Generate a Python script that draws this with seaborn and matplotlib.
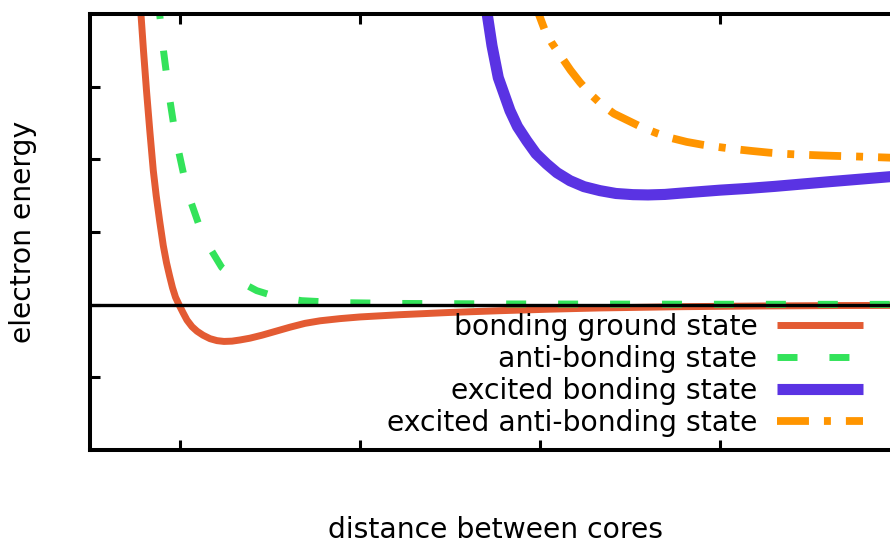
import matplotlib
matplotlib.use("Agg")
import matplotlib.pyplot as plt
import seaborn as sns
import pandas as pd

# Potential energy curves (distance between cores -> electron energy)
ground_x = [0.775, 0.7833, 0.7972, 0.8139, 0.8322, 0.8517, 0.8678, 0.8867, 0.9072, 0.925,
            0.9417, 0.9583, 0.975, 0.9944, 1.0167, 1.0389, 1.0667, 1.0944, 1.1278, 1.1667,
            1.2056, 1.2444, 1.2889, 1.3333, 1.3889, 1.4556, 1.5278, 1.6111, 1.6944, 1.7778,
            1.8889, 2.0, 2.2222, 2.5, 2.7778, 3.0556, 3.3333, 3.7778, 4.2222, 4.6667, 5.0]
ground_y = [4.32, 3.991, 3.495, 2.945, 2.394, 1.844, 1.500, 1.156, 0.812, 0.578,
            0.399, 0.234, 0.103, 0.0, -0.110, -0.213, -0.303, -0.365, -0.420, -0.468,
            -0.495, -0.506, -0.502, -0.486, -0.461, -0.420, -0.369, -0.310, -0.257, -0.222,
            -0.192, -0.169, -0.138, -0.107, -0.083, -0.062, -0.045, -0.028, -0.018, -0.012, -0.010]

anti_x = [0.875, 0.8872, 0.8928, 0.9083, 0.9261, 0.9444, 0.9667, 0.9917, 1.0194, 1.0583,
          1.1028, 1.1583, 1.2317, 1.3278, 1.4261, 1.5389, 1.6761, 1.8889, 2.2222, 2.7778,
          3.8889, 5.0]
anti_y = [4.33, 3.991, 3.867, 3.495, 3.151, 2.807, 2.449, 2.119, 1.803, 1.431,
          1.115, 0.812, 0.513, 0.323, 0.193, 0.106, 0.055, 0.028, 0.017, 0.010,
          0.006, 0.004]

exc_x = [2.689, 2.7072, 2.7333, 2.7683, 2.8333, 2.875, 2.9261, 2.9778, 3.0372, 3.0944,
         3.1667, 3.2444, 3.3333, 3.4222, 3.5167, 3.6, 3.6944, 3.7778, 4.0, 4.1556,
         4.3056, 4.4556, 4.6111, 4.7778, 4.9444, 5.0]
exc_y = [4.33, 3.991, 3.564, 3.124, 2.670, 2.450, 2.257, 2.078, 1.936, 1.816,
         1.706, 1.624, 1.569, 1.530, 1.514, 1.510, 1.517, 1.534, 1.576, 1.600,
         1.628, 1.660, 1.693, 1.727, 1.761, 1.772]

exc_anti_x = [2.939, 2.9944, 3.0278, 3.0667, 3.1206, 3.1694, 3.2222, 3.2806, 3.3428, 3.4111,
              3.4906, 3.5667, 3.6483, 3.7278, 3.815, 3.9, 3.9906, 4.0833, 4.1778, 4.2722,
              4.3706, 4.4667, 4.5611, 4.6611, 4.7594, 4.85, 4.9444, 5.0]
exc_anti_y = [4.33, 3.991, 3.770, 3.598, 3.403, 3.227, 3.059, 2.897, 2.752, 2.628,
              2.532, 2.440, 2.360, 2.294, 2.240, 2.202, 2.170, 2.140, 2.115, 2.092,
              2.074, 2.063, 2.054, 2.046, 2.039, 2.031, 2.023, 2.020]

labels = ["bonding ground state", "anti-bonding state",
          "excited bonding state", "excited anti-bonding state"]
colors = ["#e35b33", "#33e35a", "#5a33e3", "#ff9500"]
x_ticks = [1, 2, 3, 4]
y_ticks = [-1, 0, 1, 2, 3]

sns.set_theme(style="white")
plt.rcParams["font.family"] = ["DejaVu Sans"]
plt.rcParams["text.color"] = "black"
plt.rcParams["axes.labelcolor"] = "black"
plt.rcParams["lines.scale_dashes"] = False
plt.rcParams["lines.solid_capstyle"] = "butt"
plt.rcParams["lines.dash_capstyle"] = "butt"
plt.rcParams["lines.solid_joinstyle"] = "round"
plt.rcParams["lines.dash_joinstyle"] = "round"

fig = plt.figure(figsize=(8.90, 5.44), dpi=100)
# plot area: left edge at 90 px, right edge runs just past the canvas
ax = fig.add_axes([90 / 890, 94 / 544, 810 / 890, 436 / 544])

series = [(ground_x, ground_y), (anti_x, anti_y), (exc_x, exc_y), (exc_anti_x, exc_anti_y)]
widths = [5.0, 5.0, 8.0, 5.6]
dash_styles = [None, (0, (14.4, 23.0)), None, (0, (23.0, 10.8, 5.0, 10.8))]

for (xs, ys), lab, col, lw, ds in zip(series, labels, colors, widths, dash_styles):
    df = pd.DataFrame({"r": xs, "E": ys})
    sns.lineplot(data=df, x="r", y="E", sort=False, estimator=None, color=col,
                 linewidth=lw, label=lab, ax=ax, legend=False)
    line = ax.lines[-1]
    if ds is not None:
        line.set_linestyle(ds)

ax.axhline(0, color="black", linewidth=2.4, zorder=5)

ax.set_xlim(0.5, 5.0)
ax.set_ylim(-2, 4)
ax.set_xticks(x_ticks)
ax.set_yticks(y_ticks)
ax.tick_params(direction="in", length=7, width=2.2, color="black",
               top=True, right=True, bottom=True, left=True,
               labelbottom=False, labelleft=False)
for sp in ax.spines.values():
    sp.set_color("black")
    sp.set_linewidth(2.9)

ax.set_xlabel("distance between cores", fontsize=20.3, va="center", color="black")
ax.set_ylabel("electron energy", fontsize=20.3, va="center", color="black")
ax.xaxis.set_label_coords(0.5, (450 - 530.5) / 436)
ax.yaxis.set_label_coords((23 - 90) / 810, 0.5)

handles = ax.lines[:4]
leg = ax.legend(handles, labels, loc="lower right", markerfirst=False, frameon=False,
                fontsize=20.3, handlelength=3.05, handletextpad=0.7, labelspacing=0.14,
                borderpad=0, borderaxespad=0,
                bbox_to_anchor=(863 / 890, (544 - 437) / 544), bbox_transform=fig.transFigure)
for t in leg.get_texts():
    t.set_color("black")

fig.savefig("out.png", dpi=100)
